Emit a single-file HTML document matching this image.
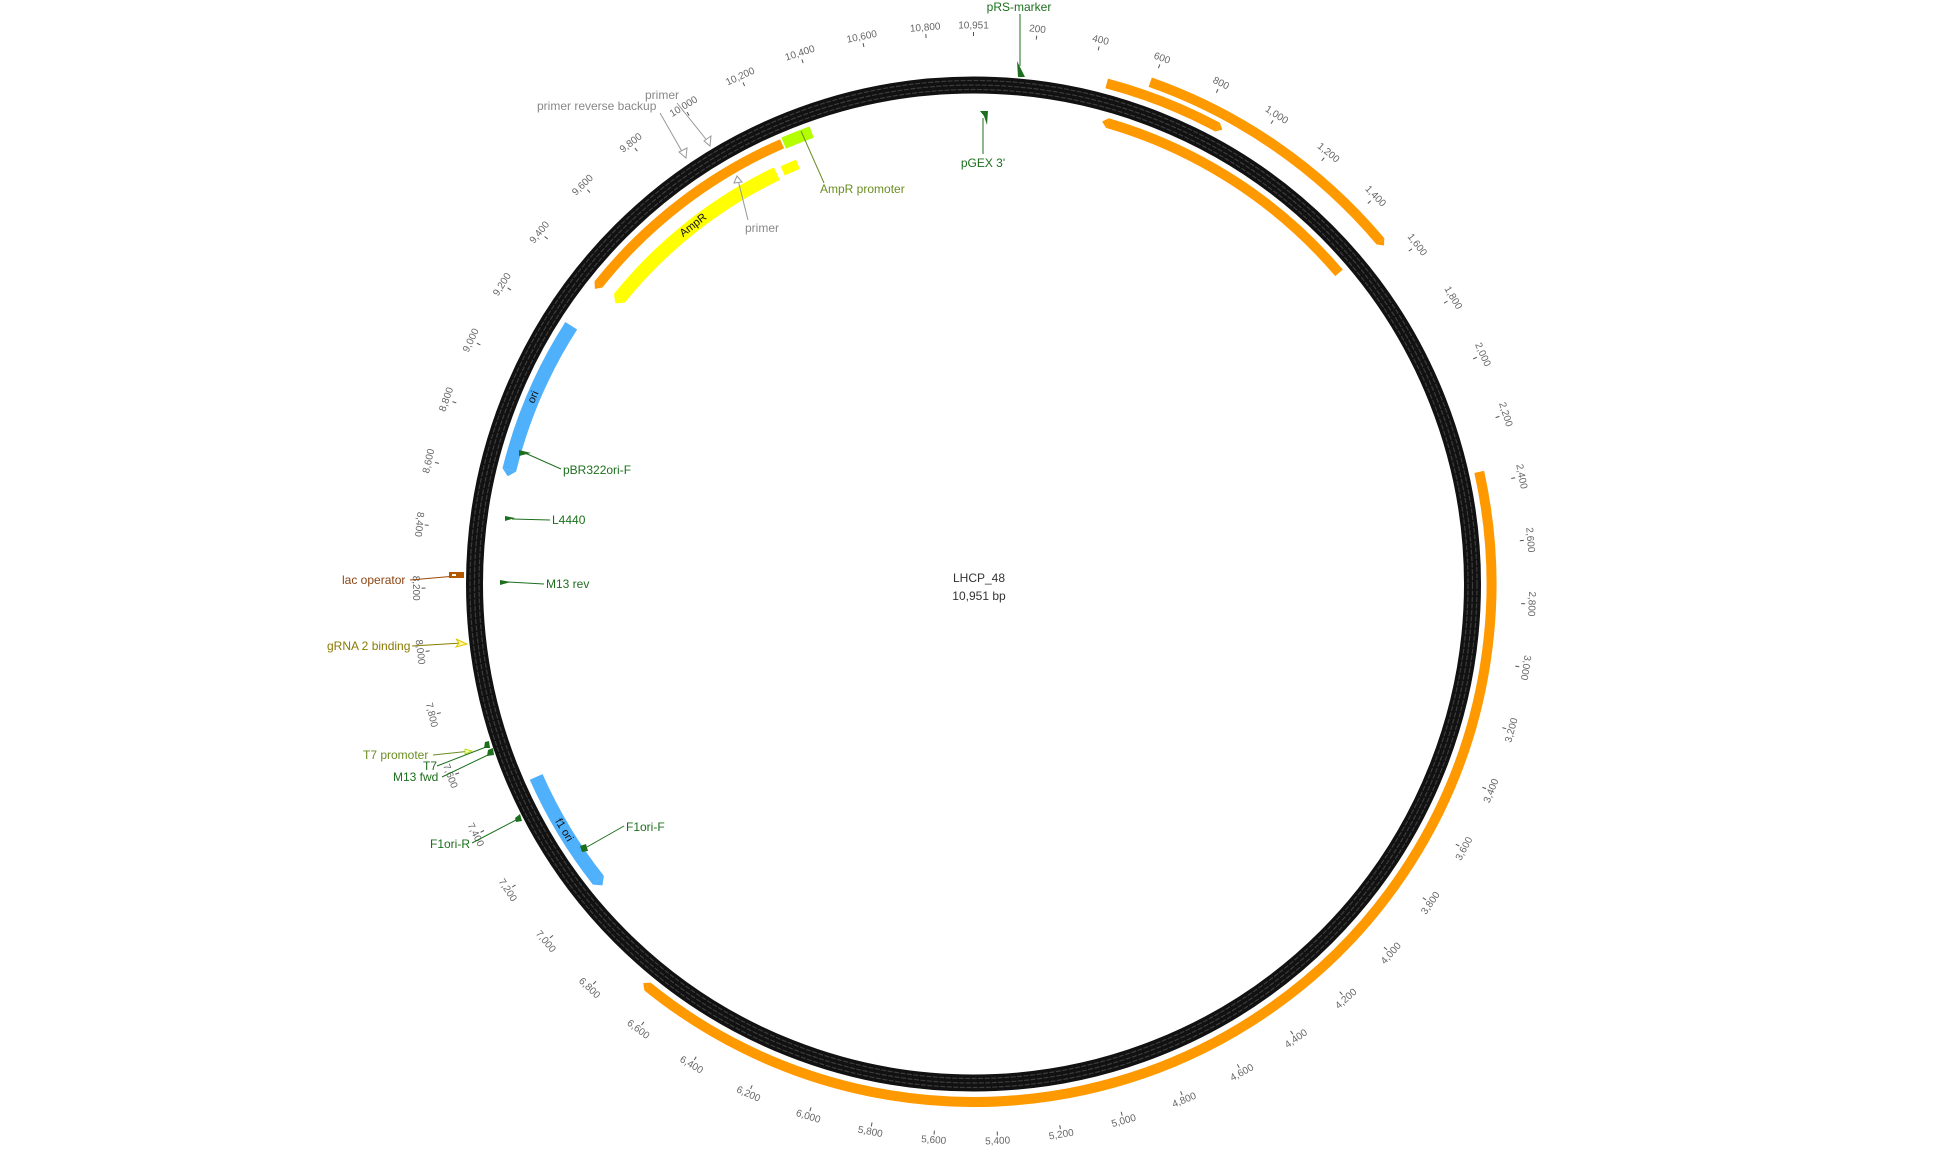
<!DOCTYPE html>
<html><head><meta charset="utf-8"><style>
html,body{margin:0;padding:0;background:#fff;width:1949px;height:1169px;overflow:hidden;}
svg{display:block;font-family:"Liberation Sans",sans-serif;}
.tk line{stroke:#555;stroke-width:1}
.tk text{font-size:10px;fill:#666;text-anchor:middle;dominant-baseline:central}
.lab{font-size:12px}
.g{fill:#1d6f1d}
.gl{stroke:#1d6f1d;stroke-width:1;fill:none}
</style></head><body>
<svg width="1949" height="1169" viewBox="0 0 1949 1169" xmlns="http://www.w3.org/2000/svg">
<rect width="1949" height="1169" fill="#fff"/>
<circle cx="973.5" cy="584" r="499" fill="none" stroke="#111" stroke-width="17"/>
<circle cx="973.5" cy="584" r="494.5" fill="none" stroke="#3c3c3c" stroke-width="1.2" stroke-dasharray="5 1.5"/>
<circle cx="973.5" cy="584" r="499" fill="none" stroke="#3c3c3c" stroke-width="1.2" stroke-dasharray="5 1.5"/>
<circle cx="973.5" cy="584" r="503.5" fill="none" stroke="#3c3c3c" stroke-width="1.2" stroke-dasharray="5 1.5"/>

<g fill="none">
<circle cx="973.5" cy="584" r="532" stroke="#ff9900" stroke-width="10" pathLength="360" stroke-dasharray="30.5 400" transform="rotate(-70.6 973.5 584)"/>
<circle cx="973.5" cy="584" r="518" stroke="#ff9900" stroke-width="10" pathLength="360" stroke-dasharray="13.2 400" transform="rotate(-75.1 973.5 584)"/>
<circle cx="973.5" cy="584" r="480" stroke="#ff9900" stroke-width="10" pathLength="360" stroke-dasharray="33.4 400" transform="rotate(-73.8 973.5 584)"/>
<circle cx="973.5" cy="584" r="518" stroke="#ff9900" stroke-width="10" pathLength="360" stroke-dasharray="141.5 400" transform="rotate(-12.5 973.5 584)"/>
<circle cx="973.5" cy="584" r="480" stroke="#ff9900" stroke-width="10" pathLength="360" stroke-dasharray="27.9 400" transform="rotate(218.6 973.5 584)"/>
<circle cx="973.5" cy="584" r="455" stroke="#ffff00" stroke-width="14" pathLength="360" stroke-dasharray="25.5 400" transform="rotate(218.9 973.5 584)"/>
<circle cx="973.5" cy="584" r="455" stroke="#ffff00" stroke-width="10" pathLength="360" stroke-dasharray="2.1 400" transform="rotate(245.2 973.5 584)"/>
<circle cx="973.5" cy="584" r="480" stroke="#b3ff00" stroke-width="12" pathLength="360" stroke-dasharray="3.6 400" transform="rotate(246.7 973.5 584)"/>
<circle cx="973.5" cy="584" r="478" stroke="#4fb0fc" stroke-width="14" pathLength="360" stroke-dasharray="18.9 400" transform="rotate(193.8 973.5 584)"/>
<circle cx="973.5" cy="584" r="478" stroke="#4fb0fc" stroke-width="14" pathLength="360" stroke-dasharray="14.5 400" transform="rotate(141.7 973.5 584)"/>
</g>
<g transform="rotate(49.9 973.5 584)"><polygon points="973.5,47 979,52 973.5,57" fill="#ff9900"/></g>
<g transform="rotate(28.1 973.5 584)"><polygon points="973.5,61 979,66 973.5,71" fill="#ff9900"/></g>
<g transform="rotate(16.2 973.5 584)"><polygon points="973.5,99 968,104 973.5,109" fill="#ff9900"/></g>
<g transform="rotate(219.0 973.5 584)"><polygon points="973.5,61 979,66 973.5,71" fill="#ff9900"/></g>
<g transform="rotate(308.6 973.5 584)"><polygon points="973.5,99 968,104 973.5,109" fill="#ff9900"/></g>
<g transform="rotate(308.9 973.5 584)"><polygon points="973.5,122 967,129 973.5,136" fill="#ffff00"/></g>
<g transform="rotate(283.8 973.5 584)"><polygon points="973.5,99 967,106 973.5,113" fill="#4fb0fc"/></g>
<g transform="rotate(231.7 973.5 584)"><polygon points="973.5,99 967,106 973.5,113" fill="#4fb0fc"/></g>
<g transform="rotate(293 973.5 584)"><text x="973.5" y="106" font-size="11" text-anchor="middle" dominant-baseline="central" fill="#111">ori</text></g>
<g transform="rotate(239 973.5 584)"><text x="973.5" y="106" font-size="11" text-anchor="middle" dominant-baseline="central" fill="#111" transform="rotate(180 973.5 106)">f1 ori</text></g>
<g transform="rotate(322 973.5 584)"><text x="973.5" y="129" font-size="11" text-anchor="middle" dominant-baseline="central" fill="#111">AmpR</text></g>

<g class="tk">
<g transform="rotate(0 973.5 584)"><line x1="973.5" y1="32" x2="973.5" y2="36"/><text x="973.5" y="26">10,951</text></g>
<g transform="rotate(6.575 973.5 584)"><line x1="973.5" y1="32" x2="973.5" y2="36"/><text x="973.5" y="26">200</text></g>
<g transform="rotate(13.150 973.5 584)"><line x1="973.5" y1="32" x2="973.5" y2="36"/><text x="973.5" y="26">400</text></g>
<g transform="rotate(19.724 973.5 584)"><line x1="973.5" y1="32" x2="973.5" y2="36"/><text x="973.5" y="26">600</text></g>
<g transform="rotate(26.299 973.5 584)"><line x1="973.5" y1="32" x2="973.5" y2="36"/><text x="973.5" y="26">800</text></g>
<g transform="rotate(32.874 973.5 584)"><line x1="973.5" y1="32" x2="973.5" y2="36"/><text x="973.5" y="26">1,000</text></g>
<g transform="rotate(39.449 973.5 584)"><line x1="973.5" y1="32" x2="973.5" y2="36"/><text x="973.5" y="26">1,200</text></g>
<g transform="rotate(46.024 973.5 584)"><line x1="973.5" y1="32" x2="973.5" y2="36"/><text x="973.5" y="26">1,400</text></g>
<g transform="rotate(52.598 973.5 584)"><line x1="973.5" y1="32" x2="973.5" y2="36"/><text x="973.5" y="26">1,600</text></g>
<g transform="rotate(59.173 973.5 584)"><line x1="973.5" y1="32" x2="973.5" y2="36"/><text x="973.5" y="26">1,800</text></g>
<g transform="rotate(65.748 973.5 584)"><line x1="973.5" y1="32" x2="973.5" y2="36"/><text x="973.5" y="26">2,000</text></g>
<g transform="rotate(72.323 973.5 584)"><line x1="973.5" y1="32" x2="973.5" y2="36"/><text x="973.5" y="26">2,200</text></g>
<g transform="rotate(78.898 973.5 584)"><line x1="973.5" y1="32" x2="973.5" y2="36"/><text x="973.5" y="26">2,400</text></g>
<g transform="rotate(85.472 973.5 584)"><line x1="973.5" y1="32" x2="973.5" y2="36"/><text x="973.5" y="26">2,600</text></g>
<g transform="rotate(92.047 973.5 584)"><line x1="973.5" y1="32" x2="973.5" y2="36"/><text x="973.5" y="26">2,800</text></g>
<g transform="rotate(98.622 973.5 584)"><line x1="973.5" y1="32" x2="973.5" y2="36"/><text x="973.5" y="26">3,000</text></g>
<g transform="rotate(105.197 973.5 584)"><line x1="973.5" y1="32" x2="973.5" y2="36"/><text x="973.5" y="26" transform="rotate(180 973.5 26)">3,200</text></g>
<g transform="rotate(111.772 973.5 584)"><line x1="973.5" y1="32" x2="973.5" y2="36"/><text x="973.5" y="26" transform="rotate(180 973.5 26)">3,400</text></g>
<g transform="rotate(118.346 973.5 584)"><line x1="973.5" y1="32" x2="973.5" y2="36"/><text x="973.5" y="26" transform="rotate(180 973.5 26)">3,600</text></g>
<g transform="rotate(124.921 973.5 584)"><line x1="973.5" y1="32" x2="973.5" y2="36"/><text x="973.5" y="26" transform="rotate(180 973.5 26)">3,800</text></g>
<g transform="rotate(131.496 973.5 584)"><line x1="973.5" y1="32" x2="973.5" y2="36"/><text x="973.5" y="26" transform="rotate(180 973.5 26)">4,000</text></g>
<g transform="rotate(138.071 973.5 584)"><line x1="973.5" y1="32" x2="973.5" y2="36"/><text x="973.5" y="26" transform="rotate(180 973.5 26)">4,200</text></g>
<g transform="rotate(144.646 973.5 584)"><line x1="973.5" y1="32" x2="973.5" y2="36"/><text x="973.5" y="26" transform="rotate(180 973.5 26)">4,400</text></g>
<g transform="rotate(151.220 973.5 584)"><line x1="973.5" y1="32" x2="973.5" y2="36"/><text x="973.5" y="26" transform="rotate(180 973.5 26)">4,600</text></g>
<g transform="rotate(157.795 973.5 584)"><line x1="973.5" y1="32" x2="973.5" y2="36"/><text x="973.5" y="26" transform="rotate(180 973.5 26)">4,800</text></g>
<g transform="rotate(164.370 973.5 584)"><line x1="973.5" y1="32" x2="973.5" y2="36"/><text x="973.5" y="26" transform="rotate(180 973.5 26)">5,000</text></g>
<g transform="rotate(170.945 973.5 584)"><line x1="973.5" y1="32" x2="973.5" y2="36"/><text x="973.5" y="26" transform="rotate(180 973.5 26)">5,200</text></g>
<g transform="rotate(177.520 973.5 584)"><line x1="973.5" y1="32" x2="973.5" y2="36"/><text x="973.5" y="26" transform="rotate(180 973.5 26)">5,400</text></g>
<g transform="rotate(184.094 973.5 584)"><line x1="973.5" y1="32" x2="973.5" y2="36"/><text x="973.5" y="26" transform="rotate(180 973.5 26)">5,600</text></g>
<g transform="rotate(190.669 973.5 584)"><line x1="973.5" y1="32" x2="973.5" y2="36"/><text x="973.5" y="26" transform="rotate(180 973.5 26)">5,800</text></g>
<g transform="rotate(197.244 973.5 584)"><line x1="973.5" y1="32" x2="973.5" y2="36"/><text x="973.5" y="26" transform="rotate(180 973.5 26)">6,000</text></g>
<g transform="rotate(203.819 973.5 584)"><line x1="973.5" y1="32" x2="973.5" y2="36"/><text x="973.5" y="26" transform="rotate(180 973.5 26)">6,200</text></g>
<g transform="rotate(210.394 973.5 584)"><line x1="973.5" y1="32" x2="973.5" y2="36"/><text x="973.5" y="26" transform="rotate(180 973.5 26)">6,400</text></g>
<g transform="rotate(216.968 973.5 584)"><line x1="973.5" y1="32" x2="973.5" y2="36"/><text x="973.5" y="26" transform="rotate(180 973.5 26)">6,600</text></g>
<g transform="rotate(223.543 973.5 584)"><line x1="973.5" y1="32" x2="973.5" y2="36"/><text x="973.5" y="26" transform="rotate(180 973.5 26)">6,800</text></g>
<g transform="rotate(230.118 973.5 584)"><line x1="973.5" y1="32" x2="973.5" y2="36"/><text x="973.5" y="26" transform="rotate(180 973.5 26)">7,000</text></g>
<g transform="rotate(236.693 973.5 584)"><line x1="973.5" y1="32" x2="973.5" y2="36"/><text x="973.5" y="26" transform="rotate(180 973.5 26)">7,200</text></g>
<g transform="rotate(243.268 973.5 584)"><line x1="973.5" y1="32" x2="973.5" y2="36"/><text x="973.5" y="26" transform="rotate(180 973.5 26)">7,400</text></g>
<g transform="rotate(249.842 973.5 584)"><line x1="973.5" y1="32" x2="973.5" y2="36"/><text x="973.5" y="26" transform="rotate(180 973.5 26)">7,600</text></g>
<g transform="rotate(256.417 973.5 584)"><line x1="973.5" y1="32" x2="973.5" y2="36"/><text x="973.5" y="26" transform="rotate(180 973.5 26)">7,800</text></g>
<g transform="rotate(262.992 973.5 584)"><line x1="973.5" y1="32" x2="973.5" y2="36"/><text x="973.5" y="26" transform="rotate(180 973.5 26)">8,000</text></g>
<g transform="rotate(269.567 973.5 584)"><line x1="973.5" y1="32" x2="973.5" y2="36"/><text x="973.5" y="26" transform="rotate(180 973.5 26)">8,200</text></g>
<g transform="rotate(276.142 973.5 584)"><line x1="973.5" y1="32" x2="973.5" y2="36"/><text x="973.5" y="26" transform="rotate(180 973.5 26)">8,400</text></g>
<g transform="rotate(282.716 973.5 584)"><line x1="973.5" y1="32" x2="973.5" y2="36"/><text x="973.5" y="26">8,600</text></g>
<g transform="rotate(289.291 973.5 584)"><line x1="973.5" y1="32" x2="973.5" y2="36"/><text x="973.5" y="26">8,800</text></g>
<g transform="rotate(295.866 973.5 584)"><line x1="973.5" y1="32" x2="973.5" y2="36"/><text x="973.5" y="26">9,000</text></g>
<g transform="rotate(302.441 973.5 584)"><line x1="973.5" y1="32" x2="973.5" y2="36"/><text x="973.5" y="26">9,200</text></g>
<g transform="rotate(309.016 973.5 584)"><line x1="973.5" y1="32" x2="973.5" y2="36"/><text x="973.5" y="26">9,400</text></g>
<g transform="rotate(315.590 973.5 584)"><line x1="973.5" y1="32" x2="973.5" y2="36"/><text x="973.5" y="26">9,600</text></g>
<g transform="rotate(322.165 973.5 584)"><line x1="973.5" y1="32" x2="973.5" y2="36"/><text x="973.5" y="26">9,800</text></g>
<g transform="rotate(328.740 973.5 584)"><line x1="973.5" y1="32" x2="973.5" y2="36"/><text x="973.5" y="26">10,000</text></g>
<g transform="rotate(335.315 973.5 584)"><line x1="973.5" y1="32" x2="973.5" y2="36"/><text x="973.5" y="26">10,200</text></g>
<g transform="rotate(341.890 973.5 584)"><line x1="973.5" y1="32" x2="973.5" y2="36"/><text x="973.5" y="26">10,400</text></g>
<g transform="rotate(348.464 973.5 584)"><line x1="973.5" y1="32" x2="973.5" y2="36"/><text x="973.5" y="26">10,600</text></g>
<g transform="rotate(355.039 973.5 584)"><line x1="973.5" y1="32" x2="973.5" y2="36"/><text x="973.5" y="26">10,800</text></g>
</g>

<text x="979" y="578" font-size="12" fill="#333" text-anchor="middle" dominant-baseline="central">LHCP_48</text>
<text x="979" y="596" font-size="12" fill="#333" text-anchor="middle" dominant-baseline="central">10,951 bp</text>

<line x1="1020" y1="14" x2="1020" y2="66" class="gl"/>
<polygon points="1017,61 1018,77 1025,77" class="g"/>
<text x="1019" y="11" class="lab g" text-anchor="middle">pRS-marker</text>

<line x1="983" y1="118" x2="983" y2="154" class="gl"/>
<polygon points="980,111 988,111 987,125 984,116" class="g"/>
<text x="983" y="167" class="lab g" text-anchor="middle">pGEX 3'</text>

<line x1="525" y1="453" x2="561" y2="469" class="gl"/>
<polygon points="519,450 531,453 519,456" class="g"/>
<text x="563" y="474" class="lab g">pBR322ori-F</text>

<line x1="512" y1="519" x2="550" y2="520" class="gl"/>
<polygon points="505,516 515,518 505,521" class="g"/>
<text x="552" y="524" class="lab g">L4440</text>

<line x1="507" y1="582" x2="544" y2="584" class="gl"/>
<polygon points="500,580 511,582 500,585" class="g"/>
<text x="546" y="588" class="lab g">M13 rev</text>

<line x1="410" y1="580" x2="456" y2="576" stroke="#9a4a00" stroke-width="1"/>
<rect x="449" y="572" width="15" height="6" fill="#b35900"/>
<rect x="452" y="574" width="4" height="2" fill="#fff"/>
<text x="342" y="584" class="lab" fill="#8b4513">lac operator</text>

<line x1="412" y1="646" x2="462" y2="643" stroke="#8a7a00" stroke-width="1"/>
<polygon points="456,639 467,644 456,647 459,643" fill="#fff7a0" stroke="#e0c800" stroke-width="1"/>
<text x="327" y="650" class="lab" fill="#8a7a00">gRNA 2 binding</text>

<line x1="433" y1="755" x2="471" y2="751" stroke="#6b8e23" stroke-width="1"/>
<polygon points="465,749 472,751 465,754" fill="#f4ffb0" stroke="#b3d400" stroke-width="0.8"/>
<text x="363" y="759" class="lab" fill="#6b8e23">T7 promoter</text>

<line x1="437" y1="766" x2="486" y2="747" class="gl"/>
<polygon points="485,742 489,741 490,748 484,748" class="g"/>
<text x="423" y="770" class="lab g">T7</text>

<line x1="442" y1="777" x2="490" y2="754" class="gl"/>
<polygon points="488,750 493,748 494,755 487,756" class="g"/>
<text x="393" y="781" class="lab g">M13 fwd</text>

<line x1="472" y1="843" x2="518" y2="819" class="gl"/>
<polygon points="515,818 520,814 522,821 516,822" class="g"/>
<text x="430" y="848" class="lab g">F1ori-R</text>

<line x1="587" y1="847" x2="624" y2="826" class="gl"/>
<polygon points="580,846 586,844 588,851 582,852" class="g"/>
<text x="626" y="831" class="lab g">F1ori-F</text>

<line x1="660" y1="113" x2="684" y2="155" stroke="#999" stroke-width="1"/>
<polygon points="679,152 686,158 687,148" fill="#fff" stroke="#999" stroke-width="1"/>
<text x="537" y="110" class="lab" fill="#888">primer reverse backup</text>

<line x1="677" y1="103" x2="709" y2="143" stroke="#999" stroke-width="1"/>
<polygon points="704,141 710,146 711,136" fill="#fff" stroke="#999" stroke-width="1"/>
<text x="645" y="99" class="lab" fill="#888">primer</text>

<line x1="748" y1="220" x2="738" y2="180" stroke="#999" stroke-width="1"/>
<polygon points="734,183 737,176 742,182" fill="#fff" stroke="#999" stroke-width="1"/>
<text x="745" y="232" class="lab" fill="#888">primer</text>

<line x1="824" y1="183" x2="801" y2="131" stroke="#6b8e23" stroke-width="1"/>
<text x="820" y="193" class="lab" fill="#6b8e23">AmpR promoter</text>
</svg>
</body></html>
